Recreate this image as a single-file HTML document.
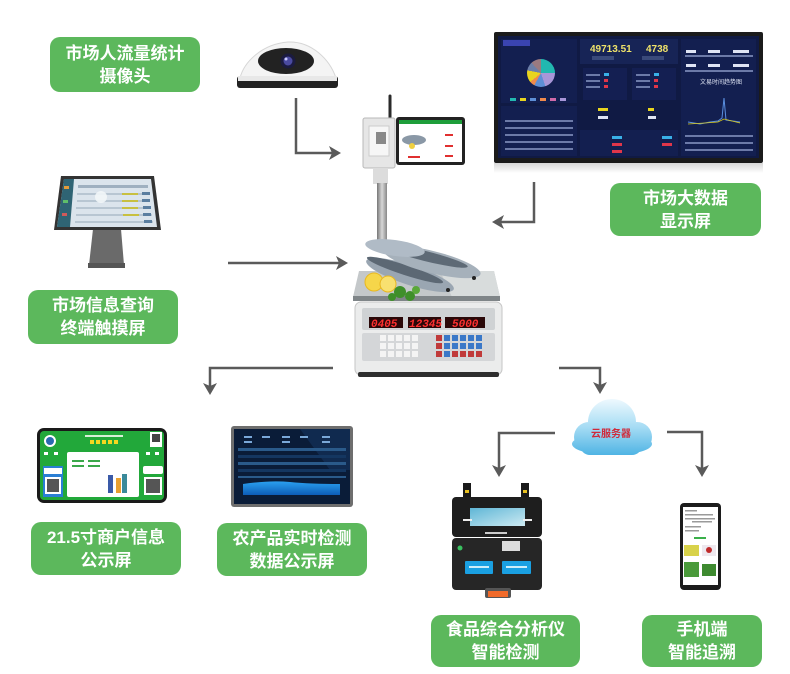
<!DOCTYPE html>
<html><head><meta charset="utf-8">
<style>
html,body{margin:0;padding:0;background:#fff;}
#c{position:relative;width:790px;height:674px;overflow:hidden;background:#fff;}
svg{position:absolute;left:0;top:0;}
.lb{position:absolute;background:#5cb85c;border-radius:10px;color:#fff;font-family:"Liberation Sans","Noto Sans CJK SC",sans-serif;font-weight:bold;font-size:17px;line-height:23px;text-align:center;display:flex;align-items:center;justify-content:center;}
.pie{position:absolute;left:527px;top:59px;width:28px;height:28px;border-radius:50%;background:conic-gradient(#22b8b0 0 25%,#a896d8 25% 45%,#5d8fd6 45% 58%,#f08a4b 58% 64%,#e8d41e 64% 78%,#6c7fa8 78% 88%,#9a7a80 88% 100%);}
</style></head><body><div id="c">
<svg width="790" height="674" viewBox="0 0 790 674" font-family="Liberation Sans, Noto Sans CJK SC, sans-serif">
<defs>
<linearGradient id="cg" gradientUnits="userSpaceOnUse" x1="0" y1="399" x2="0" y2="455">
<stop offset="0" stop-color="#eef9fe"/><stop offset="0.5" stop-color="#a6dcf4"/><stop offset="1" stop-color="#4fb4e4"/></linearGradient>
<linearGradient id="pole" x1="0" x2="1" y1="0" y2="0"><stop offset="0" stop-color="#777"/><stop offset="0.5" stop-color="#d8d8d8"/><stop offset="1" stop-color="#888"/></linearGradient>
<linearGradient id="refl" x1="0" x2="0" y1="0" y2="1"><stop offset="0" stop-color="#d8d8d8"/><stop offset="1" stop-color="#fff"/></linearGradient>
<linearGradient id="lidscr" x1="0" x2="1" y1="0" y2="1"><stop offset="0" stop-color="#5fb6d6"/><stop offset="1" stop-color="#cdeaf2"/></linearGradient>
<linearGradient id="chart" x1="0" x2="0" y1="0" y2="1"><stop offset="0" stop-color="#2aa0f0"/><stop offset="1" stop-color="#0d5db8"/></linearGradient>
</defs>

<!-- ARROWS -->
<g fill="none" stroke="#5a5a5a" stroke-width="2.5">
<path d="M296,98 V153 H332"/>
<path d="M228,263 H339"/>
<path d="M534,182 V222 H501"/>
<path d="M333,368 H210 V386"/>
<path d="M559,368 H600 V385"/>
<path d="M555,433 H499 V468"/>
<path d="M667,432 H702 V468"/>
</g>
<g fill="#5a5a5a">
<path d="M341,153 L329,146 L332,153 L329,160 Z"/>
<path d="M348,263 L336,256 L339,263 L336,270 Z"/>
<path d="M492,222 L504,215 L501,222 L504,229 Z"/>
<path d="M210,395 L203,383 L210,386 L217,383 Z"/>
<path d="M600,394 L593,382 L600,385 L607,382 Z"/>
<path d="M499,477 L492,465 L499,468 L506,465 Z"/>
<path d="M702,477 L695,465 L702,468 L709,465 Z"/>
</g>

<!-- CAMERA -->
<path d="M240,78 C244,62 262,44 288,42 C312,41 330,60 336,78 Z" fill="#f4f4f4" stroke="#d6d6d6"/>
<ellipse cx="286" cy="61" rx="28" ry="13" fill="#222"/>
<circle cx="288" cy="61" r="7.5" fill="#1b1b40"/>
<circle cx="288" cy="61" r="4.5" fill="#4a4aa0"/>
<circle cx="286" cy="59" r="1.5" fill="#c9c9ff"/>
<rect x="237" y="76" width="101" height="12" rx="3" fill="#222"/>
<rect x="238" y="76" width="99" height="5" fill="#e8e8e8"/>

<!-- KIOSK -->
<polygon points="93,229 121,229 124,265 89,265" fill="#6a6a6a"/>
<rect x="88" y="263" width="37" height="5" fill="#555"/>
<polygon points="61,176 154,176 161,230 54,230" fill="#333"/>
<polygon points="64,179 151,179 157,227 57,227" fill="#dbe4ec"/>
<polygon points="64,179 74,179 70,227 57,227" fill="#2f6474"/>
<g fill="#e59b3a"><rect x="64" y="186" width="5" height="3"/><rect x="63" y="200" width="5" height="3" fill="#5fbf6a"/><rect x="62" y="213" width="5" height="3" fill="#d05a5a"/></g>
<g fill="#9fb0c0">
<rect x="78" y="185" width="70" height="3"/>
<rect x="77" y="193" width="72" height="2" fill="#b8c6d2"/>
<rect x="77" y="200" width="73" height="2" fill="#b8c6d2"/>
<rect x="76" y="207" width="75" height="2" fill="#b8c6d2"/>
<rect x="76" y="214" width="76" height="2" fill="#b8c6d2"/>
<rect x="75" y="221" width="78" height="2" fill="#b8c6d2"/>
</g>
<g fill="#5a7ea0"><rect x="142" y="192" width="8" height="3"/><rect x="142" y="199" width="8" height="3"/><rect x="143" y="206" width="8" height="3"/><rect x="143" y="213" width="8" height="3"/><rect x="144" y="220" width="8" height="3"/></g>
<g fill="#c8c040"><rect x="122" y="193" width="16" height="2"/><rect x="122" y="200" width="16" height="2"/><rect x="122" y="207" width="16" height="2"/><rect x="123" y="214" width="16" height="2"/></g>
<circle cx="101" cy="197" r="6" fill="#f2f6f8" opacity="0.9"/>

<!-- BIG SCREEN -->
<rect x="494" y="163" width="269" height="10" fill="url(#refl)"/>
<rect x="494" y="32" width="269" height="131" rx="2" fill="#1b1b1b"/>
<rect x="498" y="36" width="261" height="122" fill="#101a44"/>
<rect x="501" y="39" width="76" height="64" fill="#131f50"/>
<rect x="501" y="106" width="76" height="50" fill="#131f50"/>
<rect x="580" y="39" width="98" height="25" fill="#172456"/>
<rect x="583" y="68" width="44" height="32" fill="#141f52"/>
<rect x="632" y="68" width="44" height="32" fill="#141f52"/>
<rect x="580" y="130" width="98" height="26" fill="#131f50"/>
<rect x="681" y="39" width="75" height="117" fill="#131f50"/>
<rect x="503" y="40" width="27" height="6" fill="#3a44b0"/>
<text x="590" y="52" font-size="10" font-weight="bold" fill="#efe26a">49713.51</text>
<text x="646" y="52" font-size="10" font-weight="bold" fill="#efe26a">4738</text>
<rect x="592" y="56" width="22" height="4" fill="#3a4a7a"/><rect x="642" y="56" width="22" height="4" fill="#3a4a7a"/>
<g fill="#8fa0c8">
<rect x="510" y="98" width="6" height="3" fill="#22b8b0"/><rect x="520" y="98" width="6" height="3" fill="#e8d41e"/><rect x="530" y="98" width="6" height="3" fill="#5d8fd6"/><rect x="540" y="98" width="6" height="3" fill="#f08a4b"/><rect x="550" y="98" width="6" height="3" fill="#d06aa8"/><rect x="560" y="98" width="6" height="3" fill="#a896d8"/>
</g>
<g fill="#6c7aa8">
<rect x="586" y="74" width="14" height="2"/><rect x="586" y="80" width="14" height="2"/><rect x="586" y="86" width="14" height="2"/>
<rect x="636" y="74" width="14" height="2"/><rect x="636" y="80" width="14" height="2"/><rect x="636" y="86" width="14" height="2"/>
<rect x="505" y="120" width="68" height="2"/><rect x="505" y="127" width="68" height="2"/><rect x="505" y="134" width="68" height="2"/><rect x="505" y="141" width="68" height="2"/><rect x="505" y="148" width="68" height="2"/>
<rect x="685" y="55" width="68" height="2"/><rect x="685" y="70" width="68" height="2"/>
<rect x="685" y="135" width="68" height="2"/><rect x="685" y="142" width="68" height="2"/><rect x="685" y="149" width="68" height="2"/>
</g>
<g fill="#39b0e8"><rect x="604" y="73" width="5" height="3"/><rect x="654" y="73" width="5" height="3"/><rect x="612" y="136" width="10" height="3"/><rect x="662" y="136" width="10" height="3"/></g>
<g fill="#e0364a"><rect x="604" y="79" width="4" height="3"/><rect x="604" y="85" width="4" height="3"/><rect x="654" y="79" width="4" height="3"/><rect x="654" y="85" width="4" height="3"/><rect x="612" y="143" width="10" height="3"/><rect x="662" y="143" width="10" height="3"/><rect x="612" y="150" width="10" height="3"/></g>
<g fill="#dfe4f4"><rect x="686" y="50" width="10" height="3"/><rect x="708" y="50" width="12" height="3"/><rect x="733" y="50" width="16" height="3"/><rect x="686" y="64" width="10" height="3"/><rect x="708" y="64" width="12" height="3"/><rect x="733" y="64" width="16" height="3"/>
<rect x="598" y="108" width="10" height="3" fill="#e8d41e"/><rect x="598" y="116" width="10" height="3"/><rect x="648" y="108" width="6" height="3" fill="#e8d41e"/><rect x="648" y="116" width="8" height="3"/></g>
<polyline points="688,122 700,124 710,122 718,121 722,118 724,98 726,120 740,122" fill="none" stroke="#5a8fe0" stroke-width="1"/>
<polyline points="688,124 705,123 718,122 724,119 740,123" fill="none" stroke="#d8c81a" stroke-width="0.8"/>
<text x="700" y="84" font-size="6" fill="#dfe4f4">文易时间趋势图</text>

<!-- SCALE -->
<line x1="390" y1="96" x2="390" y2="119" stroke="#2a2a2a" stroke-width="3" stroke-linecap="round"/>
<rect x="363" y="118" width="32" height="50" rx="2" fill="#e6e6e6" stroke="#b8b8b8"/>
<rect x="369" y="126" width="20" height="30" fill="#f6f6f6" stroke="#ccc"/>
<rect x="376" y="132" width="10" height="12" fill="#888"/>
<rect x="396" y="117" width="69" height="48" rx="3" fill="#222"/>
<rect x="399" y="120" width="63" height="42" fill="#fff"/>
<rect x="399" y="120" width="63" height="4" fill="#1e9e3a"/>
<ellipse cx="414" cy="140" rx="12" ry="5" fill="#8a98a6"/>
<circle cx="412" cy="146" r="3" fill="#f0d040"/>
<g fill="#e03030"><rect x="445" y="134" width="8" height="2"/><rect x="445" y="145" width="8" height="2"/><rect x="445" y="155" width="8" height="2"/><rect x="408" y="156" width="12" height="2"/></g>
<rect x="373" y="168" width="15" height="16" fill="#dcdcdc"/>
<rect x="377" y="183" width="10" height="64" fill="url(#pole)"/>
<polygon points="359,271 494,271 500,297 353,297" fill="#c4c8ca"/>
<polygon points="440,271 494,271 500,297 452,297" fill="#d8dcdc"/>
<rect x="353" y="296" width="147" height="5" fill="#7f8588"/>
<ellipse cx="410" cy="275" rx="46" ry="10" transform="rotate(18 410 275)" fill="#9aa6b2"/>
<ellipse cx="405" cy="270" rx="40" ry="5" transform="rotate(18 405 270)" fill="#5c6874"/>
<ellipse cx="432" cy="262" rx="50" ry="11" transform="rotate(14 432 262)" fill="#a6b1bb"/>
<ellipse cx="425" cy="256" rx="44" ry="5" transform="rotate(14 425 256)" fill="#5e6a76"/>
<ellipse cx="395" cy="248" rx="30" ry="8" transform="rotate(8 395 248)" fill="#b0bbc6"/>
<circle cx="474" cy="278" r="2" fill="#222"/><circle cx="448" cy="290" r="2" fill="#222"/>
<circle cx="374" cy="282" r="9" fill="#f6d64a" stroke="#e8b820"/>
<circle cx="388" cy="284" r="8" fill="#f8e070" stroke="#e8b820"/>
<g fill="#3f8f2a"><circle cx="400" cy="292" r="6"/><circle cx="410" cy="296" r="5"/><circle cx="392" cy="297" r="4"/><circle cx="416" cy="290" r="4" fill="#5aa83a"/></g>
<rect x="355" y="302" width="147" height="73" rx="6" fill="#ebecec" stroke="#c6c6c6"/>
<rect x="358" y="372" width="141" height="5" rx="2" fill="#2e2e2e"/>
<rect x="362" y="308" width="133" height="22" rx="2" fill="#cfd2d4"/>
<rect x="369" y="317" width="34" height="11" fill="#2a0808"/>
<rect x="408" y="317" width="33" height="11" fill="#2a0808"/>
<rect x="445" y="317" width="40" height="11" fill="#2a0808"/>
<g font-family="Liberation Mono, monospace" font-weight="bold" font-size="11" fill="#ff3030">
<text x="371" y="327" font-style="italic">0405</text>
<text x="409" y="327" font-style="italic">12345</text>
<text x="452" y="327" font-style="italic">5000</text>
</g>
<rect x="362" y="333" width="133" height="28" rx="2" fill="#d4d6d8"/>
<g fill="#f4f4f4">
<rect x="380" y="335" width="6" height="6"/><rect x="388" y="335" width="6" height="6"/><rect x="396" y="335" width="6" height="6"/><rect x="404" y="335" width="6" height="6"/><rect x="412" y="335" width="6" height="6"/>
<rect x="380" y="343" width="6" height="6"/><rect x="388" y="343" width="6" height="6"/><rect x="396" y="343" width="6" height="6"/><rect x="404" y="343" width="6" height="6"/><rect x="412" y="343" width="6" height="6"/>
<rect x="380" y="351" width="6" height="6"/><rect x="388" y="351" width="6" height="6"/><rect x="396" y="351" width="6" height="6"/><rect x="404" y="351" width="6" height="6"/><rect x="412" y="351" width="6" height="6"/>
</g>
<g fill="#c03a3a"><rect x="436" y="335" width="6" height="6"/><rect x="436" y="343" width="6" height="6"/><rect x="436" y="351" width="6" height="6"/><rect x="452" y="351" width="6" height="6"/><rect x="460" y="351" width="6" height="6"/><rect x="468" y="351" width="6" height="6"/><rect x="476" y="351" width="6" height="6"/></g>
<g fill="#3a78c8"><rect x="444" y="335" width="6" height="6"/><rect x="452" y="335" width="6" height="6"/><rect x="460" y="335" width="6" height="6"/><rect x="468" y="335" width="6" height="6"/><rect x="476" y="335" width="6" height="6"/>
<rect x="444" y="343" width="6" height="6"/><rect x="452" y="343" width="6" height="6"/><rect x="460" y="343" width="6" height="6"/><rect x="468" y="343" width="6" height="6"/><rect x="476" y="343" width="6" height="6"/><rect x="444" y="351" width="6" height="6"/></g>

<!-- CLOUD -->
<g fill="url(#cg)">
<ellipse cx="612" cy="422" rx="24" ry="23"/>
<circle cx="589" cy="437" r="15"/>
<circle cx="637" cy="437" r="15"/>
<rect x="580" y="432" width="62" height="23" rx="10"/>
<ellipse cx="612" cy="444" rx="40" ry="11"/>
</g>
<text x="611" y="437" font-size="10" font-weight="bold" fill="#d02a3a" text-anchor="middle" font-family="Liberation Sans, Noto Sans CJK SC, sans-serif">云服务器</text>

<!-- MERCHANT SCREEN -->
<rect x="37" y="428" width="130" height="75" rx="7" fill="#1a1a1a"/>
<rect x="40" y="431" width="124" height="69" rx="4" fill="#22a83a"/>
<circle cx="50" cy="441" r="6" fill="#fff"/><circle cx="50" cy="441" r="4" fill="#2a6ab0"/>
<g fill="#f5d820"><rect x="90" y="440" width="4" height="4"/><rect x="96" y="440" width="4" height="4"/><rect x="102" y="440" width="4" height="4"/><rect x="108" y="440" width="4" height="4"/><rect x="114" y="440" width="4" height="4"/></g>
<rect x="85" y="435" width="38" height="2" fill="#d8f0d8"/>
<rect x="150" y="432" width="12" height="15" fill="#fff"/><rect x="152" y="434" width="8" height="8" fill="#444"/>
<rect x="67" y="452" width="72" height="45" rx="2" fill="#fff"/>
<g fill="#3aa84a"><rect x="72" y="460" width="12" height="2"/><rect x="88" y="460" width="12" height="2"/><rect x="72" y="465" width="12" height="2"/><rect x="88" y="465" width="12" height="2"/></g>
<g fill="#3a5aa8"><rect x="108" y="475" width="5" height="18"/><rect x="116" y="478" width="5" height="15" fill="#e8a030"/><rect x="122" y="474" width="5" height="19" fill="#3a8a9a"/></g>
<rect x="43" y="466" width="20" height="31" fill="#2a7fd4"/><rect x="44" y="468" width="18" height="6" fill="#fff"/><rect x="45" y="477" width="16" height="17" fill="#fff"/><rect x="47" y="479" width="12" height="13" fill="#555"/>
<rect x="143" y="466" width="20" height="8" rx="2" fill="#fff"/>
<rect x="144" y="477" width="18" height="18" fill="#fff"/><rect x="146" y="479" width="14" height="14" fill="#555"/>
<g fill="#fff"><rect x="44" y="452" width="4" height="3"/><rect x="54" y="452" width="4" height="3"/><rect x="146" y="452" width="4" height="3"/><rect x="155" y="452" width="4" height="3"/></g>

<!-- DETECTION SCREEN -->
<rect x="231" y="426" width="122" height="81" rx="3" fill="#6e6e6e"/>
<rect x="234" y="429" width="116" height="75" fill="#0a1c38"/>
<polygon points="300,429 350,429 350,470 330,470" fill="#12305a" opacity="0.7"/>
<g fill="#2a5a8a"><rect x="238" y="448" width="108" height="3"/><rect x="238" y="455" width="108" height="3" fill="#143660"/><rect x="238" y="462" width="108" height="3"/><rect x="238" y="469" width="108" height="3" fill="#143660"/><rect x="238" y="476" width="108" height="2"/></g>
<g fill="#7aa8d8"><rect x="244" y="436" width="8" height="2"/><rect x="262" y="436" width="8" height="2"/><rect x="282" y="436" width="8" height="2"/><rect x="300" y="436" width="8" height="2"/><rect x="322" y="436" width="8" height="2"/><rect x="244" y="441" width="8" height="2"/><rect x="282" y="441" width="8" height="2"/><rect x="322" y="441" width="8" height="2"/></g>
<path d="M243,484 Q270,480 290,482 T340,484 V495 H243 Z" fill="url(#chart)"/>

<!-- ANALYZER -->
<rect x="463" y="483" width="8" height="16" fill="#1a1a1a"/><rect x="465" y="490" width="4" height="3" fill="#e8c020"/>
<rect x="521" y="483" width="8" height="16" fill="#1a1a1a"/><rect x="523" y="490" width="4" height="3" fill="#e8c020"/>
<rect x="452" y="497" width="90" height="40" rx="4" fill="#1e1e1e"/>
<rect x="470" y="508" width="55" height="18" fill="url(#lidscr)"/>
<rect x="463" y="519" width="9" height="2" fill="#eee"/><rect x="523" y="519" width="9" height="2" fill="#eee"/>
<rect x="485" y="532" width="22" height="2" fill="#ccc"/>
<rect x="452" y="538" width="90" height="52" rx="4" fill="#262626"/>
<rect x="502" y="541" width="18" height="10" fill="#dcdcdc"/>
<circle cx="460" cy="548" r="2.5" fill="#3ac060"/>
<rect x="465" y="561" width="28" height="13" rx="1" fill="#1aa0e2"/>
<rect x="502" y="561" width="29" height="13" rx="1" fill="#1aa0e2"/>
<g fill="#cdeefa"><rect x="469" y="566" width="20" height="2"/><rect x="506" y="566" width="21" height="2"/></g>
<rect x="485" y="588" width="26" height="10" rx="2" fill="#555"/>
<rect x="488" y="591" width="20" height="6" fill="#f06a2a"/>

<!-- PHONE -->
<rect x="680" y="503" width="41" height="87" rx="4" fill="#1c1c1c"/>
<rect x="683" y="507" width="35" height="78" fill="#fff"/>
<g fill="#9a9a9a"><rect x="685" y="510" width="12" height="1.5"/><rect x="685" y="514" width="28" height="1.5"/><rect x="685" y="518" width="30" height="1.5"/><rect x="692" y="521" width="20" height="1.5"/><rect x="685" y="526" width="16" height="1.5"/><rect x="685" y="530" width="14" height="1.5"/></g>
<rect x="694" y="537" width="12" height="2" fill="#3ab04a"/>
<rect x="684" y="545" width="15" height="11" fill="#d8d24a"/>
<rect x="702" y="545" width="14" height="11" fill="#eee8ee"/><circle cx="709" cy="550" r="3" fill="#c02a2a"/>
<rect x="684" y="562" width="15" height="15" fill="#4a9a3a"/>
<rect x="702" y="564" width="14" height="12" fill="#3e8a30"/>
</svg>
<div class="pie"></div>
<div class="lb" style="left:50px;top:37px;width:150px;height:55px">市场人流量统计<br>摄像头</div>
<div class="lb" style="left:28px;top:290px;width:150px;height:54px">市场信息查询<br>终端触摸屏</div>
<div class="lb" style="left:610px;top:183px;width:151px;height:53px">市场大数据<br>显示屏</div>
<div class="lb" style="left:31px;top:522px;width:150px;height:53px">21.5寸商户信息<br>公示屏</div>
<div class="lb" style="left:217px;top:523px;width:150px;height:53px">农产品实时检测<br>数据公示屏</div>
<div class="lb" style="left:431px;top:615px;width:149px;height:52px">食品综合分析仪<br>智能检测</div>
<div class="lb" style="left:642px;top:615px;width:120px;height:52px">手机端<br>智能追溯</div>
</div></body></html>
